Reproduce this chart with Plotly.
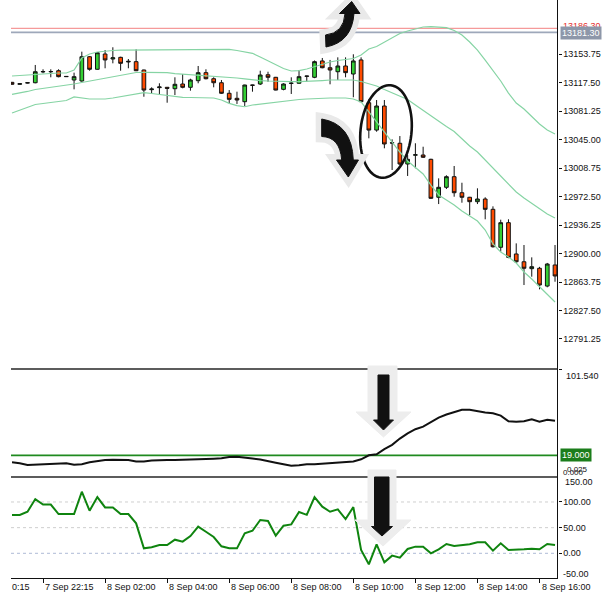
import math
import plotly.graph_objects as go

W, H = 605, 597

# ---------------- data ----------------
bars = list(range(71))
opens = [13117.7, 13115.2, 13116.8, 13117.2, 13131.0, 13131.2, 13132.5, 13124.9, 13120.7, 13119.4,
         13150.3, 13134.3, 13153.75, 13147.4, 13149.5, 13143.6, 13144.0, 13133.4, 13108.4, 13111.0,
         13111.4, 13109.6, 13115.6, 13111.4, 13119.8, 13130.0, 13122.3, 13117.2, 13103.8, 13097.4,
         13093.1, 13114.3, 13115.6, 13127.4, 13124.1, 13108.8, 13116.3, 13116.5, 13125.8, 13124.1,
         13144.9, 13136.3, 13131.2, 13138.5, 13128.3, 13146.2, 13091.8, 13057.0, 13087.6, 13040.9,
         13040.2, 13013.8, 13025.0, 13025.3, 13019.8, 12971.5, 12984.2, 12997.7, 12977.3, 12971.5,
         12965.9, 12969.3, 12956.2, 12907.9, 12939.2, 12899.4, 12889.5, 12880.7, 12881.2, 12858.6,
         12885.4]
highs = [13118.2, 13116.5, 13117.6, 13139.8, 13134.3, 13134.3, 13134.3, 13125.2, 13130.0, 13156.7,
         13151.2, 13156.0, 13158.8, 13162.3, 13150.3, 13147.4, 13159.7, 13133.8, 13111.4, 13116.5,
         13111.8, 13124.1, 13128.3, 13122.3, 13138.5, 13134.3, 13124.1, 13120.7, 13107.9, 13105.8,
         13114.7, 13114.6, 13132.5, 13131.2, 13124.6, 13116.5, 13124.1, 13133.4, 13126.2, 13145.5,
         13148.7, 13146.2, 13149.5, 13149.5, 13153.4, 13149.5, 13096.1, 13095.2, 13095.2, 13045.2,
         13049.4, 13025.3, 13040.2, 13035.8, 13020.5, 12995.6, 12999.5, 13011.3, 12990.0, 12972.0,
         12982.9, 12971.5, 12960.0, 12943.0, 12943.5, 12912.9, 12910.8, 12895.1, 12883.0, 12888.0,
         12910.8]
lows = [13114.8, 13114.8, 13116.4, 13116.5, 13129.2, 13124.1, 13124.1, 13124.9, 13108.8, 13118.5,
        13132.5, 13133.8, 13135.6, 13141.9, 13132.5, 13135.6, 13132.0, 13099.4, 13103.8, 13102.9,
        13091.8, 13101.6, 13110.1, 13107.1, 13116.5, 13121.5, 13111.4, 13103.0, 13091.0, 13090.2,
        13087.6, 13105.8, 13114.3, 13118.5, 13107.5, 13107.6, 13102.9, 13116.0, 13118.5, 13123.0,
        13135.6, 13115.2, 13120.7, 13124.1, 13098.7, 13092.7, 13046.5, 13054.9, 13033.8, 13006.2,
        13012.6, 12998.6, 13008.4, 13021.5, 12969.5, 12962.9, 12982.0, 12972.2, 12964.6, 12948.9,
        12962.9, 12943.5, 12907.5, 12902.3, 12894.0, 12888.0, 12859.9, 12870.5, 12854.4, 12857.0,
        12864.1]
closes = [13115.2, 13116.0, 13117.2, 13131.2, 13131.4, 13131.4, 13124.9, 13125.2, 13124.9, 13150.3,
          13134.3, 13155.4, 13146.2, 13149.0, 13141.9, 13144.4, 13132.5, 13107.9, 13109.2, 13111.8,
          13110.1, 13115.2, 13111.4, 13120.7, 13130.0, 13122.3, 13117.2, 13103.8, 13096.1, 13095.2,
          13114.3, 13114.0, 13127.0, 13124.1, 13107.9, 13115.6, 13116.7, 13124.9, 13125.4, 13144.0,
          13136.3, 13133.4, 13138.5, 13130.0, 13144.9, 13093.1, 13057.0, 13087.6, 13039.3, 13040.5,
          13013.8, 13019.8, 13025.6, 13022.4, 12970.2, 12984.2, 12997.7, 12977.3, 12971.5, 12965.9,
          12969.3, 12956.2, 12908.6, 12939.2, 12895.1, 12889.5, 12881.2, 12883.2, 12859.9, 12886.6,
          12871.4]

bb_upper = [13125.8, 13126.4, 13127.0, 13128.3, 13128.9, 13129.6, 13129.6, 13129.6, 13133.4, 13148.7,
            13153.8, 13156.3, 13157.6, 13158.2, 13158.8, 13158.8, 13158.8, 13158.8, 13158.8, 13158.8,
            13158.8, 13158.8, 13158.8, 13158.8, 13158.8, 13159.2, 13159.5, 13159.7, 13159.7, 13158.2,
            13156.3, 13154.6, 13149.9, 13144.9, 13140.4, 13135.3, 13132.1, 13132.5, 13134.7, 13137.9,
            13141.0, 13143.6, 13145.5, 13146.8, 13148.0, 13152.5, 13160.1, 13163.3, 13169.0, 13174.1,
            13179.8, 13183.0, 13185.6, 13188.1, 13188.7, 13188.1, 13187.2, 13183.6, 13177.9, 13169.0,
            13158.8, 13146.1, 13133.4, 13119.4, 13104.1, 13091.4, 13083.8, 13073.6, 13064.7, 13057.1,
            13052.0]
bb_middle = [13102.5, 13104.1, 13106.1, 13108.6, 13109.9, 13111.1, 13113.1, 13114.3, 13115.6, 13117.5,
             13119.4, 13120.7, 13122.6, 13124.5, 13126.4, 13128.3, 13130.2, 13130.5, 13130.5, 13130.2,
             13130.0, 13128.9, 13128.3, 13127.7, 13127.0, 13126.4, 13125.8, 13125.1, 13124.5, 13123.2,
             13122.0, 13120.7, 13120.0, 13119.4, 13118.8, 13118.5, 13118.5, 13118.5, 13118.8, 13119.4,
             13120.0, 13120.7, 13120.7, 13120.7, 13120.7, 13118.8, 13116.2, 13113.1, 13108.6, 13104.1,
             13100.3, 13095.9, 13088.9, 13081.9, 13074.9, 13067.6, 13061.5, 13055.2, 13045.6, 13036.7,
             13029.1, 13018.9, 13008.7, 12998.6, 12987.1, 12978.2, 12970.6, 12963.6, 12956.6, 12950.2,
             12945.1]
bb_lower = [13078.7, 13082.5, 13086.3, 13089.5, 13090.8, 13092.1, 13093.3, 13094.6, 13099.1, 13097.8,
            13096.5, 13096.5, 13096.5, 13097.8, 13099.7, 13101.6, 13103.5, 13104.5, 13103.5, 13102.2,
            13101.0, 13099.7, 13098.7, 13098.4, 13098.2, 13098.2, 13097.8, 13095.2, 13091.0, 13088.2,
            13086.7, 13088.9, 13090.2, 13091.4, 13092.7, 13094.0, 13094.6, 13095.9, 13096.5, 13097.2,
            13097.8, 13097.8, 13097.8, 13097.8, 13096.5, 13092.7, 13080.0, 13067.3, 13053.3, 13041.8,
            13029.1, 13017.7, 13010.0, 13001.1, 12987.1, 12974.4, 12968.0, 12961.7, 12954.1, 12947.7,
            12941.3, 12929.9, 12912.1, 12901.9, 12895.5, 12887.9, 12876.5, 12867.6, 12857.4, 12848.5,
            12838.3]

adx = [12.3, 11.5, 9.8, 10, 10.5, 11, 11.2, 11.5, 10, 10.5,
       12.3, 13.5, 14.5, 14.8, 14.8, 14.5, 13, 13, 14, 14.5,
       14.5, 14.5, 14.7, 14.8, 14.8, 15.2, 15.8, 16.2, 17.5, 17.7,
       17.2, 16, 15, 13.2, 12, 10.5, 9.1, 9.5, 10.5, 10.5,
       11, 11.2, 11.5, 12, 13.2, 15.2, 19, 20, 25, 29,
       35, 40, 44, 46.4, 50.5, 55, 58, 60, 62.5, 62.5,
       61, 60, 59.2, 57, 51.5, 51.1, 51.5, 53.4, 51.1, 53, 52]
adx_level = 19.0
adx_max = 101.54

cci = [74.6, 74.6, 81, 105.7, 95, 95, 76.5, 76.5, 76.5, 120,
       83, 109.6, 89.5, 89.5, 76.5, 76.5, 58.4, 9.7, 12, 16.2,
       16.2, 26.6, 22.7, 33.7, 51.9, 42, 31.8, 13.6, 9.7, 9.7,
       39, 44, 64.9, 63, 34.4, 53.8, 56.4, 80.4, 75, 109.6,
       90.8, 81, 85.6, 66.8, 90, 6.5, -21.4, 17.5, -17.5, -4.5,
       -8.4, 8.4, 13, 13, 0, 7.8, 18.2, 14.3, 16.2, 17.5,
       21.4, 21.4, 5.2, 19.5, 6.5, 6.5, 7.8, 9, 7.8, 18.2, 16.2]
cci_levels = [100, 50, 0]
cci_ticks = [100, 50, 0]

price_ticks = [13153.75, 13117.50, 13081.25, 13045.00, 13008.75, 12972.50,
               12936.25, 12900.00, 12863.75, 12827.50, 12791.25]
bid_price = 13181.30
ask_price = 13186.30
time_tick_bars = [4, 12, 20, 28, 36, 44, 52, 60, 68]
time_tick_labels = ["7 Sep 22:15", "8 Sep 02:00", "8 Sep 04:00", "8 Sep 06:00", "8 Sep 08:00",
                    "8 Sep 10:00", "8 Sep 12:00", "8 Sep 14:00", "8 Sep 16:00"]

# ---------------- helpers (pixel -> paper) ----------------
def X(px):
    return px / W

def Y(py):
    return 1 - py / H

def P(px, py):
    return f"{X(px):.5f},{Y(py):.5f}"

FONT = "Liberation Sans, Arial, sans-serif"

fig = go.Figure()

band_col = "#86d4a4"
for band in (bb_upper, bb_middle, bb_lower):
    fig.add_trace(go.Scatter(x=bars, y=band, mode="lines", line=dict(color=band_col, width=1.2),
                             xaxis="x", yaxis="y", showlegend=False, hoverinfo="skip"))

fig.add_trace(go.Candlestick(
    x=bars, open=opens, high=highs, low=lows, close=closes,
    increasing=dict(line=dict(color="#111111", width=1), fillcolor="#34cf34"),
    decreasing=dict(line=dict(color="#111111", width=1), fillcolor="#ff4b00"),
    xaxis="x", yaxis="y", showlegend=False, hoverinfo="skip"))

fig.add_trace(go.Scatter(x=bars, y=adx, mode="lines", line=dict(color="#111111", width=2),
                         xaxis="x", yaxis="y2", showlegend=False, hoverinfo="skip"))
fig.add_trace(go.Scatter(x=bars, y=cci, mode="lines", line=dict(color="#0f840f", width=2),
                         xaxis="x", yaxis="y3", showlegend=False, hoverinfo="skip"))

shapes = []
shapes.append(dict(type="line", xref="x domain", yref="y", x0=0, x1=1, y0=ask_price, y1=ask_price,
                   line=dict(color="#f59a9a", width=1.2), layer="below"))
shapes.append(dict(type="line", xref="x domain", yref="y", x0=0, x1=1, y0=bid_price, y1=bid_price,
                   line=dict(color="#9ea8ba", width=1.6), layer="below"))
shapes.append(dict(type="line", xref="x domain", yref="y2", x0=0, x1=1, y0=adx_level, y1=adx_level,
                   line=dict(color="#1f8a1f", width=1.6), layer="below"))
for lv in cci_levels:
    col = "#aebbd6" if lv == 0 else "#cfcfcf"
    shapes.append(dict(type="line", xref="x domain", yref="y3", x0=0, x1=1, y0=lv, y1=lv,
                       line=dict(color=col, width=1, dash="dot"), layer="below"))
for sy in (369, 477):
    shapes.append(dict(type="line", xref="paper", yref="paper", x0=X(11), x1=X(557.5), y0=Y(sy), y1=Y(sy),
                       line=dict(color="#5c5c5c", width=2.2), layer="above"))
shapes.append(dict(type="line", xref="paper", yref="paper", x0=X(557.5), x1=X(557.5), y0=Y(0), y1=Y(578),
                   line=dict(color="#111111", width=1), layer="above"))

# ellipse
cx, cy, rx, ry, th = 386, 131.5, 25.5, 46.5, math.radians(6)
pts = []
for k in range(0, 73):
    t = 2 * math.pi * k / 72
    ex = cx + rx * math.cos(t) * math.cos(th) - ry * math.sin(t) * math.sin(th)
    ey = cy + rx * math.cos(t) * math.sin(th) + ry * math.sin(t) * math.cos(th)
    pts.append(P(ex, ey))
shapes.append(dict(type="path", xref="paper", yref="paper", path="M" + " L".join(pts) + " Z",
                   line=dict(color="#111111", width=2.6), layer="above"))

halo = "#e9e9e9"
down_curve = (f"M{P(321.7,119)} Q{P(352,124)} {P(353.3,160)} L{P(358.5,160)} L{P(348.3,177)} "
              f"L{P(336.5,160)} L{P(341.7,160)} Q{P(340,137)} {P(321.7,136.5)} Z")
up_curve = (f"M{P(326,47)} Q{P(352,42)} {P(354,13.5)} L{P(360,13.5)} L{P(351.7,1.5)} "
            f"L{P(339.5,13.5)} L{P(345,13.5)} Q{P(344,33)} {P(325.5,35)} Z")
for pth in (down_curve, up_curve):
    shapes.append(dict(type="path", xref="paper", yref="paper", path=pth, fillcolor=halo,
                       line=dict(color=halo, width=12), layer="above"))
    shapes.append(dict(type="path", xref="paper", yref="paper", path=pth, fillcolor="#111111",
                       line=dict(color="#111111", width=1), layer="above"))

halo1 = (f"M{P(368,366)} L{P(397,366)} L{P(397,412)} L{P(411,412)} L{P(383.5,437)} "
         f"L{P(356,412)} L{P(368,412)} Z")
black1 = (f"M{P(378,375)} L{P(389,375)} L{P(389,420)} L{P(393.5,420)} L{P(383.5,430)} "
          f"L{P(373.5,420)} L{P(378,420)} Z")
halo2 = (f"M{P(368,470)} L{P(396,470)} L{P(396,520)} L{P(411,520)} L{P(383,546)} "
         f"L{P(355,520)} L{P(368,520)} Z")
black2 = (f"M{P(374.5,477)} L{P(389,477)} L{P(389,526.5)} L{P(392.5,526.5)} L{P(382,536)} "
          f"L{P(371.5,526.5)} L{P(374.5,526.5)} Z")
for hp, bp in ((halo1, black1), (halo2, black2)):
    shapes.append(dict(type="path", xref="paper", yref="paper", path=hp, fillcolor="#ededed",
                       line=dict(color="#ededed", width=1), layer="above"))
    shapes.append(dict(type="path", xref="paper", yref="paper", path=bp, fillcolor="#111111",
                       line=dict(color="#111111", width=1), layer="above"))

annotations = []
for b, lab in zip(time_tick_bars, time_tick_labels):
    annotations.append(dict(x=b, y=Y(587), xref="x", yref="paper", text=lab, showarrow=False,
                            xanchor="left", yanchor="middle",
                            font=dict(family=FONT, size=9, color="#111111")))
annotations.append(dict(x=X(10), y=Y(587), xref="paper", yref="paper", text="0:15", showarrow=False,
                        xanchor="left", yanchor="middle", font=dict(family=FONT, size=9, color="#111111")))

def side_label(text, py, px=562, bg=None, size=9, color="#111111"):
    d = dict(x=X(px), y=Y(py), xref="paper", yref="paper", text=text, showarrow=False,
             xanchor="left", yanchor="middle", font=dict(family=FONT, size=size, color=color))
    if bg:
        d.update(bgcolor=bg, borderpad=1)
    return d

annotations.append(side_label(f"{ask_price:.2f}", 25.5, px=561, color="#e53030"))
annotations.append(side_label(f"{bid_price:.2f}", 32.5, px=560, bg="#8d97a9", color="#ffffff"))
annotations.append(side_label(f"{adx_max:.3f}", 375.5, px=564))
annotations.append(side_label(f"{adx_level:.3f}", 455.3, px=560, bg="#1b7d1b", color="#ffffff"))
annotations.append(side_label("0.025", 469.5, px=565, size=8))
annotations.append(side_label("0.000", 473, px=561, size=8))
annotations.append(side_label("150.00", 482, px=563))
annotations.append(side_label("-50.00", 573.5, px=561))

x_lo = -0.13
x_hi = 70.32
main_top, main_bot = 13222.44, 12756.9

fig.update_layout(
    width=W, height=H,
    margin=dict(l=0, r=0, t=0, b=0),
    paper_bgcolor="white", plot_bgcolor="white",
    showlegend=False,
    boxgap=0.32,
    xaxis=dict(domain=[X(11), X(557.5)], range=[x_lo, x_hi], anchor="y3",
               showgrid=False, zeroline=False, showline=True, linecolor="#111111", linewidth=1,
               ticks="outside", ticklen=4, tickcolor="#111111", tickvals=time_tick_bars,
               showticklabels=False, rangeslider=dict(visible=False), fixedrange=True),
    yaxis=dict(domain=[Y(366), 1], range=[main_bot, main_top], side="right", anchor="x",
               showgrid=False, zeroline=False, showline=False,
               tickvals=price_ticks, ticktext=[f"{v:.2f}" for v in price_ticks],
               ticks="outside", ticklen=3, tickcolor="#111111",
               tickfont=dict(family=FONT, size=9, color="#111111")),
    yaxis2=dict(domain=[Y(475.2), Y(369)], range=[0, adx_max], side="right", anchor="x",
                showgrid=False, zeroline=False, showline=False, showticklabels=False,
                tickvals=[adx_max], ticks="outside", ticklen=3, tickcolor="#111111"),
    yaxis3=dict(domain=[Y(578), Y(477)], range=[-48.1, 148.7], side="right", anchor="x",
                showgrid=False, zeroline=False, showline=False,
                tickvals=cci_ticks, ticktext=[f"{v:.2f}" for v in cci_ticks],
                ticks="outside", ticklen=3, tickcolor="#111111",
                tickfont=dict(family=FONT, size=9, color="#111111")),
    shapes=shapes,
    annotations=annotations,
)

fig.write_html("out.html", config={"displayModeBar": False, "staticPlot": True})

# remove the default page margin so the figure sits at the window's top-left corner
with open("out.html", "r", encoding="utf-8") as fh:
    html = fh.read()
html = html.replace("<head>", "<head><style>html,body{margin:0;padding:0;overflow:hidden;}</style>", 1)
with open("out.html", "w", encoding="utf-8") as fh:
    fh.write(html)
